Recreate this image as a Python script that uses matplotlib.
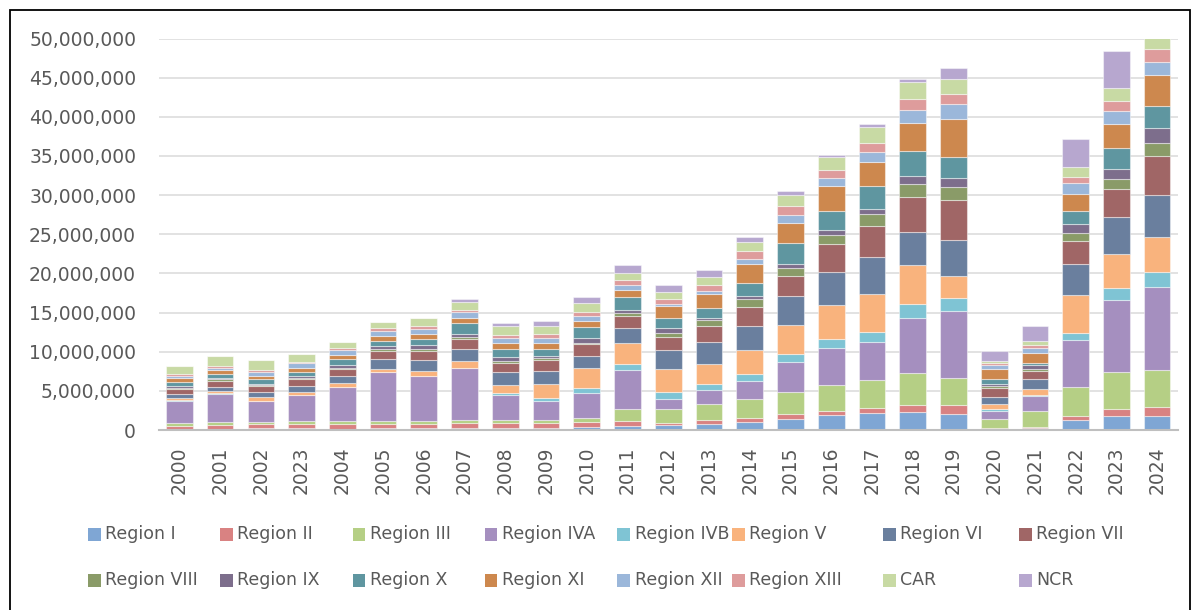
import numpy as np
from matplotlib import pyplot as plt
from matplotlib.patches import Rectangle
from matplotlib.ticker import FuncFormatter

# category labels as printed on the chart (the 4th one really reads 2023)
years = ['2000', '2001', '2002', '2023', '2004', '2005', '2006', '2007', '2008', '2009',
         '2010', '2011', '2012', '2013', '2014', '2015', '2016', '2017', '2018', '2019',
         '2020', '2021', '2022', '2023', '2024']

# values in millions
region_1 = [0.17, 0.13, 0.21, 0.30, 0.17, 0.21, 0.26, 0.30, 0.21, 0.30, 0.43, 0.47, 0.64, 0.77, 1.02, 1.40, 1.91, 2.17, 2.30, 2.04, 0.05, 0.21, 1.32, 1.74, 1.83]
region_2 = [0.38, 0.55, 0.55, 0.47, 0.60, 0.60, 0.55, 0.60, 0.68, 0.64, 0.60, 0.68, 0.30, 0.51, 0.55, 0.60, 0.55, 0.68, 0.85, 1.10, 0.20, 0.21, 0.51, 0.94, 1.06]
region_3 = [0.30, 0.30, 0.30, 0.34, 0.34, 0.30, 0.30, 0.34, 0.34, 0.38, 0.51, 1.57, 1.79, 2.04, 2.34, 2.85, 3.30, 3.53, 4.12, 3.44, 1.10, 1.96, 3.66, 4.76, 4.80]
region_4a = [2.89, 3.66, 2.64, 3.32, 4.34, 6.30, 5.79, 6.68, 3.23, 2.43, 3.23, 4.98, 1.19, 1.79, 2.38, 3.83, 4.76, 4.80, 7.06, 8.59, 1.06, 1.91, 6.00, 9.18, 10.59]
region_4b = [0.09, 0.09, 0.04, 0.04, 0.04, 0.04, 0.04, 0.04, 0.21, 0.34, 0.60, 0.77, 0.94, 0.77, 0.89, 1.06, 1.15, 1.36, 1.70, 1.66, 0.26, 0.17, 0.89, 1.57, 1.87]
region_5 = [0.30, 0.30, 0.43, 0.38, 0.47, 0.38, 0.60, 0.85, 1.06, 1.83, 2.51, 2.64, 2.89, 2.55, 2.98, 3.61, 4.34, 4.89, 5.10, 2.89, 0.64, 0.77, 4.80, 4.25, 4.50]
region_6 = [0.47, 0.51, 0.68, 0.81, 0.94, 1.28, 1.45, 1.49, 1.62, 1.57, 1.53, 1.96, 2.43, 2.77, 3.15, 3.70, 4.12, 4.63, 4.12, 4.55, 0.85, 1.23, 4.04, 4.76, 5.36]
region_7 = [0.68, 0.72, 0.77, 0.81, 0.89, 1.02, 1.15, 1.28, 1.23, 1.49, 1.53, 1.49, 1.70, 2.13, 2.38, 2.59, 3.60, 4.04, 4.46, 5.14, 1.19, 1.11, 2.93, 3.57, 4.97]
region_8 = [0.13, 0.21, 0.17, 0.17, 0.17, 0.21, 0.17, 0.26, 0.26, 0.21, 0.17, 0.38, 0.55, 0.72, 0.98, 1.06, 1.15, 1.45, 1.70, 1.62, 0.30, 0.26, 1.06, 1.32, 1.70]
region_9 = [0.21, 0.17, 0.13, 0.21, 0.38, 0.43, 0.51, 0.47, 0.47, 0.21, 0.60, 0.43, 0.55, 0.30, 0.47, 0.55, 0.64, 0.64, 1.06, 1.10, 0.21, 0.43, 1.10, 1.23, 1.91]
region_10 = [0.55, 0.47, 0.55, 0.55, 0.68, 0.64, 0.81, 1.32, 1.02, 0.89, 1.40, 1.57, 1.36, 1.28, 1.66, 2.64, 2.47, 2.98, 3.10, 2.72, 0.60, 0.26, 1.70, 2.64, 2.76]
region_11 = [0.47, 0.55, 0.47, 0.51, 0.60, 0.64, 0.64, 0.72, 0.81, 0.85, 0.85, 0.89, 1.49, 1.74, 2.38, 2.59, 3.15, 3.06, 3.66, 4.89, 1.28, 1.32, 2.13, 3.10, 4.04]
region_12 = [0.26, 0.30, 0.47, 0.60, 0.60, 0.60, 0.68, 0.68, 0.60, 0.55, 0.64, 0.68, 0.26, 0.34, 0.72, 0.98, 1.02, 1.23, 1.70, 1.91, 0.51, 0.68, 1.40, 1.62, 1.66]
region_13 = [0.21, 0.26, 0.26, 0.17, 0.26, 0.34, 0.34, 0.30, 0.38, 0.51, 0.47, 0.64, 0.68, 0.81, 0.94, 1.15, 1.02, 1.23, 1.40, 1.28, 0.26, 0.34, 0.72, 1.40, 1.62]
car = [1.06, 1.23, 1.23, 0.98, 0.81, 0.81, 0.98, 1.06, 1.15, 1.06, 1.15, 0.85, 0.89, 1.02, 1.15, 1.40, 1.70, 1.96, 2.08, 1.91, 0.34, 0.51, 1.28, 1.66, 1.50]
ncr = [0, 0, 0, 0, 0, 0, 0, 0.34, 0.38, 0.72, 0.81, 1.02, 0.89, 0.85, 0.68, 0.55, 0.26, 0.38, 0.38, 1.36, 1.19, 1.96, 3.57, 4.68, 4.50]

names = ['Region I', 'Region II', 'Region III', 'Region IVA', 'Region IVB', 'Region V',
         'Region VI', 'Region VII', 'Region VIII', 'Region IX', 'Region X', 'Region XI',
         'Region XII', 'Region XIII', 'CAR', 'NCR']
series = [region_1, region_2, region_3, region_4a, region_4b, region_5, region_6, region_7,
          region_8, region_9, region_10, region_11, region_12, region_13, car, ncr]
colors = ['#7FA6D4', '#D98282', '#B5CF85', '#A58FBF', '#7FC4D4', '#F9B37D', '#6A7F9E', '#A06666',
          '#8A9B68', '#7D6E8C', '#5F96A0', '#CD884E', '#9BB7DA', '#DE9C9C', '#C8DAA4', '#B7A7CF']

W, H = 1200, 610
fig = plt.figure(figsize=(W / 100, H / 100), dpi=100)
ax = fig.add_axes([159 / W, 1 - 430 / H, (1177.5 - 159) / W, (430 - 38.5) / H])

x = np.arange(len(years))
bottom = np.zeros(len(years))
for name, vals, c in zip(names, series, colors):
    v = np.array(vals) * 1e6
    ax.bar(x, v, 0.655, bottom=bottom, color=c, edgecolor=(1, 1, 1, 0.45),
           linewidth=0.8, label=name, zorder=3)
    bottom += v

ax.set_xlim(-0.5, len(years) - 0.5)
ax.set_ylim(0, 50e6)
ax.set_yticks(np.arange(0, 50e6 + 1, 5e6))
ax.yaxis.set_major_formatter(FuncFormatter(lambda v, p: f'{v:,.0f}'))
ax.set_xticks(x)
ax.set_xticklabels(years, rotation=90)
ax.tick_params(axis='both', length=0, labelsize=13.5, colors='#595959')
ax.tick_params(axis='x', pad=12)
ax.tick_params(axis='y', pad=16.5)
ax.grid(axis='y', color='#DDDDDD', linewidth=1.2, zorder=0)
ax.set_axisbelow(True)
for s in ['top', 'right', 'left']:
    ax.spines[s].set_visible(False)
ax.spines['bottom'].set_color('#BFBFBF')
ax.spines['bottom'].set_linewidth(1.5)
ax.spines['bottom'].set_zorder(4)

# legend laid out like the Excel one: 2 rows of 8
col_x = [94, 226, 359, 491, 624, 738, 889, 1025]
row_y = [534, 580]
for i, (name, c) in enumerate(zip(names, colors)):
    cx = col_x[i % 8]
    cy = row_y[i // 8]
    fig.patches.append(Rectangle(((cx - 6.5) / W, 1 - (cy + 6.5) / H), 13 / W, 13 / H,
                                 transform=fig.transFigure, facecolor=c, edgecolor='none'))
    fig.text((cx + 11) / W, 1 - cy / H, name, fontsize=12.5, color='#595959',
             ha='left', va='center')

# outer frame
fig.patches.append(Rectangle((9.5 / W, -0.05), (1190 - 9.5) / W, 1.05 - 9.5 / H,
                             transform=fig.transFigure, fill=False, edgecolor='black',
                             linewidth=1.3))

fig.savefig('out.png', dpi=100)
